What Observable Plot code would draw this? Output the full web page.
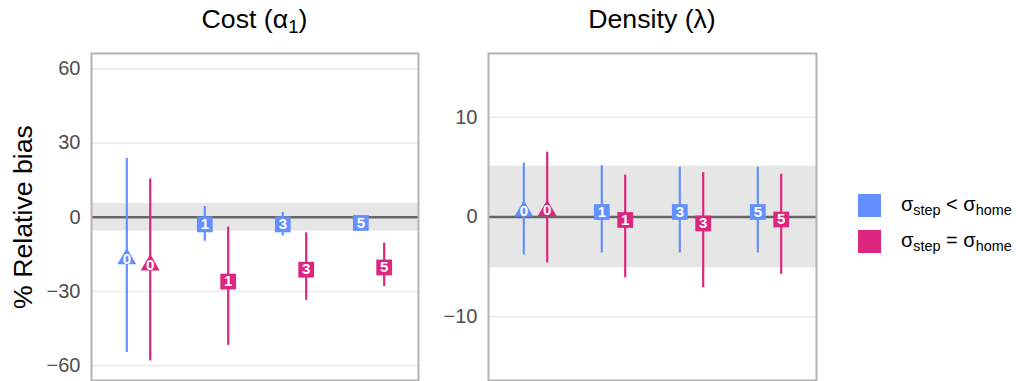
<!DOCTYPE html>
<html><head><meta charset="utf-8">
<script src="https://cdn.jsdelivr.net/npm/d3@7"></script>
<script src="https://cdn.jsdelivr.net/npm/@observablehq/plot@0.6"></script>
<style>
body{margin:0;background:#fff;font-family:"Liberation Sans",Arial,sans-serif;}
#wrap{position:relative;width:1016px;height:381px;overflow:hidden;background:#fff;}
.abs{position:absolute;}
.title{position:absolute;font-size:26.7px;line-height:1;color:#000;white-space:nowrap;transform:translateX(-50%);top:5.5px;}
.title sub{font-size:0.7em;vertical-align:-0.25em;line-height:0;}
.ylab{position:absolute;font-size:26.7px;line-height:1;color:#000;white-space:nowrap;left:23px;top:217px;transform:translate(-50%,-50%) rotate(-90deg);}
.key{position:absolute;width:23px;height:23px;}
.ltxt{position:absolute;font-size:20px;line-height:1;color:#000;white-space:nowrap;transform:translateY(-50%);}
.ltxt sub{font-size:0.72em;vertical-align:-0.3em;line-height:0;}
</style></head><body><div id="wrap"></div>
<script>
const groups = ["0","1","3","5"];
const groupShapes = ["triangle","square","square","square"];
const seriesColors = ["#648FFF","#DC267F"];

// Cost (alpha_1) panel
const costTicks = [-60,-30,0,30,60];
const costDomain = [-66,66.2];
const costBand = [-5.6,5.6];
const costLtEst = [-16.8,-2.9,-2.9,-2.3];
const costLtLo  = [-54.7,-9.7,-7.5,-4.5];
const costLtHi  = [23.8,4.3,1.9,0];
const costEqEst = [-19.3,-26.0,-21.2,-20.3];
const costEqLo  = [-58.1,-51.8,-33.6,-28.0];
const costEqHi  = [15.5,-4.0,-6.3,-10.5];

// Density (lambda) panel
const densTicks = [-10,0,10];
const densDomain = [-16.4,16.4];
const densBand = [-5.1,5.1];
const densLtEst = [0.6,0.5,0.5,0.5];
const densLtLo  = [-3.8,-3.6,-3.6,-3.6];
const densLtHi  = [5.4,5.15,5.0,5.0];
const densEqEst = [0.64,-0.3,-0.65,-0.25];
const densEqLo  = [-4.6,-6.1,-7.1,-5.75];
const densEqHi  = [6.5,4.2,4.45,4.3];

function rows(est, lo, hi){
  return groups.map((g,i)=>({group:g, est:est[i], lo:lo[i], hi:hi[i], shape:groupShapes[i]}));
}

function panel({width, marginLeft, domain, ticks, band, lt, eq}){
  const marks = [
    Plot.ruleY(ticks, {stroke:"#ebebeb", strokeWidth:1.6}),
    Plot.rect([band], {y1:d=>d[0], y2:d=>d[1], fill:"#e6e6e6"}),
    Plot.ruleY([0], {stroke:"#666666", strokeWidth:2.4})
  ];
  [[lt,-11.7,seriesColors[0]],[eq,11.7,seriesColors[1]]].forEach(([data,dx,color])=>{
    marks.push(Plot.ruleX(data,{x:"group", y1:"lo", y2:"hi", stroke:color, strokeWidth:2.2, dx}));
    marks.push(Plot.dot(data.filter(d=>d.shape==="triangle"),{x:"group", y:"est", symbol:"triangle", r:7, fill:color, dx}));
    marks.push(Plot.dot(data.filter(d=>d.shape==="square"),{x:"group", y:"est", symbol:"square", r:8.9, fill:color, dx}));
    marks.push(Plot.text(data,{x:"group", y:"est", text:"group", fill:"white", fontWeight:"bold", fontSize:15, dx}));
  });
  marks.push(Plot.axisY({ticks, tickSize:0, tickPadding:11, tickFormat:d3.format("d"), fontSize:20, label:null, fill:"#4d4d4d"}));
  marks.push(Plot.frame({stroke:"#b3b3b3", strokeWidth:2}));
  return Plot.plot({
    width, height:381, marginLeft, marginRight:2, marginTop:53, marginBottom:1,
    x:{type:"point", domain:groups, padding:0.59, axis:null},
    y:{domain},
    marks,
    style:{fontFamily:"'Liberation Sans',Arial,sans-serif", background:"transparent", overflow:"visible", color:"#4d4d4d"}
  });
}

const wrap = document.getElementById("wrap");
const p1 = panel({width:420, marginLeft:91, domain:costDomain, ticks:costTicks, band:costBand,
  lt:rows(costLtEst,costLtLo,costLtHi), eq:rows(costEqEst,costEqLo,costEqHi)});
p1.style.position="absolute"; p1.style.left="0px"; p1.style.top="0px";
wrap.appendChild(p1);
const p2 = panel({width:398, marginLeft:68, domain:densDomain, ticks:densTicks, band:densBand,
  lt:rows(densLtEst,densLtLo,densLtHi), eq:rows(densEqEst,densEqLo,densEqHi)});
p2.style.position="absolute"; p2.style.left="420px"; p2.style.top="0px";
wrap.appendChild(p2);

function addHTML(html){ const t=document.createElement("div"); t.innerHTML=html; const el=t.firstElementChild; wrap.appendChild(el); return el; }
addHTML('<div class="title" style="left:254.5px">Cost (α<sub>1</sub>)</div>');
addHTML('<div class="title" style="left:652px">Density (λ)</div>');
addHTML('<div class="ylab">% Relative bias</div>');
addHTML(`<div class="key" style="left:858px;top:194px;background:${seriesColors[0]}"></div>`);
addHTML(`<div class="key" style="left:858px;top:230px;background:${seriesColors[1]}"></div>`);
addHTML('<div class="ltxt" style="left:901px;top:204px">σ<sub>step</sub> &lt; σ<sub>home</sub></div>');
addHTML('<div class="ltxt" style="left:901px;top:240px">σ<sub>step</sub> = σ<sub>home</sub></div>');
</script></body></html>
